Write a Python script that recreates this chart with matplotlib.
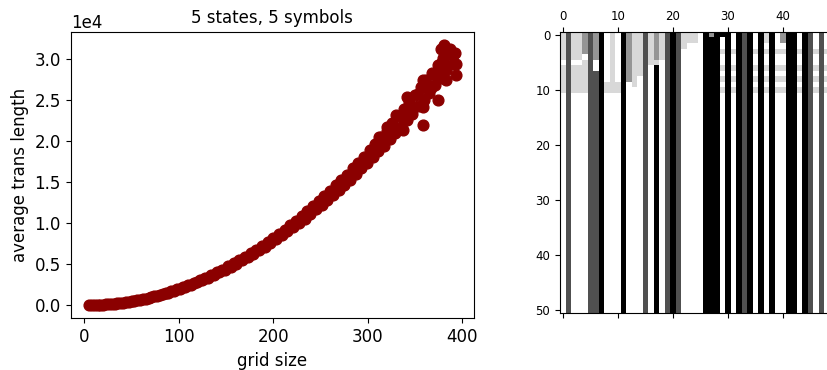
import numpy as np
import matplotlib
matplotlib.use("Agg")
import matplotlib.pyplot as plt

# grid size vs average transient length (5 states, 5 symbols)
grid_size = [5, 8, 11, 14, 17, 20, 23, 26, 29, 32, 35, 38, 41, 44, 47, 50, 53, 56, 59, 62,
             65, 68, 71, 74, 77, 80, 83, 86, 89, 92, 95, 98, 101, 104, 107, 110, 113, 116, 119, 122,
             125, 128, 131, 134, 137, 140, 143, 146, 149, 152, 155, 158, 161, 164, 167, 170, 173, 176, 179, 182,
             185, 188, 191, 194, 197, 200, 203, 206, 209, 212, 215, 218, 221, 224, 227, 230, 233, 236, 239, 242,
             245, 248, 251, 254, 257, 260, 263, 266, 269, 272, 275, 278, 281, 284, 287, 290, 293, 296, 299, 302,
             305, 308, 311, 314, 317, 320, 323, 326, 329, 332, 335, 338, 341, 344, 347, 350, 353, 356, 359, 362,
             365, 368, 371, 374, 377, 380, 383, 386, 389, 392,
             381, 377, 387, 390, 383, 393, 378, 393, 383, 374, 373, 358, 374, 367, 341, 353, 358, 344, 337, 330,
             358, 320, 327, 337, 312]
trans_len = [6, 14, 23, 40, 56, 83, 104, 138, 165, 210, 240, 295, 330, 395, 435, 510, 555, 640, 690, 785,
             830, 945, 995, 1120, 1170, 1310, 1360, 1510, 1560, 1730, 1780, 1960, 2010, 2210, 2250, 2480, 2510, 2760, 2790, 3080,
             3060, 3350, 3380, 3680, 3700, 4010, 4020, 4370, 4370, 4740, 4720, 5150, 5080, 5510, 5480, 5930, 5870, 6370, 6280, 6800,
             6700, 7270, 7130, 7750, 7590, 8200, 8060, 8740, 8530, 9250, 9020, 9800, 9540, 10350, 10050, 10930, 10580, 11500, 11120, 12100,
             11700, 12700, 12250, 13350, 12850, 13950, 13450, 14650, 14050, 15300, 14700, 15950, 15350, 16700, 16000, 17400, 16700, 18150, 17350, 18900,
             18050, 19650, 18850, 20500, 19500, 21300, 20300, 22200, 21000, 23100, 21800, 23900, 22600, 24800, 23400, 25700, 24300, 26600, 25100, 27500,
             25900, 28400, 26900, 29300, 27800, 30200, 28700, 31000, 29500, 30800,
             31800, 31300, 31300, 30500, 30700, 29500, 29700, 28100, 27500, 28700, 27900, 27500, 25000, 26500, 25400, 25800, 24200, 23800, 23000, 23200,
             22000, 21800, 21400, 21400, 20500]

# symbol in the first 11 rows of each column (top to bottom)
col_top = [
    "11111011111", "33333333333", "11111011111", "11111011111", "22220111111",
    "33333333333", "22222003333", "44444444444", "00000000011", "11111111111",
    "00000000011", "44444444444", "22222222200", "11111111110", "11111111000",
    "33333333333", "11111100000", "22222144444", "11111000000", "33333333333",
    "44444444444", "33333333333", "11100000000", "11000000000", "11000000000",
    "00000000000", "44444444444", "24444444444", "44444444444", "40010010101",
    "44444444444", "00010010101", "44444444444", "33333333333", "44444444444",
    "00010010101", "44444444444", "11010010101", "44444444444", "00010010101",
    "22010010101", "44444444444", "44444444444", "00010010101", "44444444444",
    "33333333333", "00010010101", "33333333333", "00010010101", "00000000000",
    "00000000000",
]
# symbol each column settles to below that
col_base = "030003340004000304034300004440404340404004404303000"
n_rows = 51

matrix = np.zeros((n_rows, len(col_top)), dtype=int)
for j, (top, base) in enumerate(zip(col_top, col_base)):
    matrix[:len(top), j] = [int(ch) for ch in top]
    matrix[len(top):, j] = int(base)

fig = plt.figure(figsize=(8.27, 3.70), dpi=100)

ax = fig.add_axes([0.0855, 0.1397, 0.4877, 0.7746])
ax.scatter(grid_size, trans_len, s=60, color='darkred')
ax.ticklabel_format(style='sci', axis='y', scilimits=(0, 0))
ax.set_xlabel('grid size', fontsize=12)
ax.set_ylabel('average trans length', fontsize=12)
ax.set_title('5 states, 5 symbols', fontsize=12)
ax.tick_params(labelsize=12)
ax.yaxis.get_offset_text().set_fontsize(12)

ax2 = fig.add_axes([0.6771, 0.1547, 0.3392, 0.758])
ax2.matshow(matrix, cmap='Greys', vmin=0, vmax=4, aspect='auto')
ax2.set_xticks(range(0, 50, 10))
ax2.tick_params(labelsize=8.5)

fig.savefig('out.png', dpi=100)
